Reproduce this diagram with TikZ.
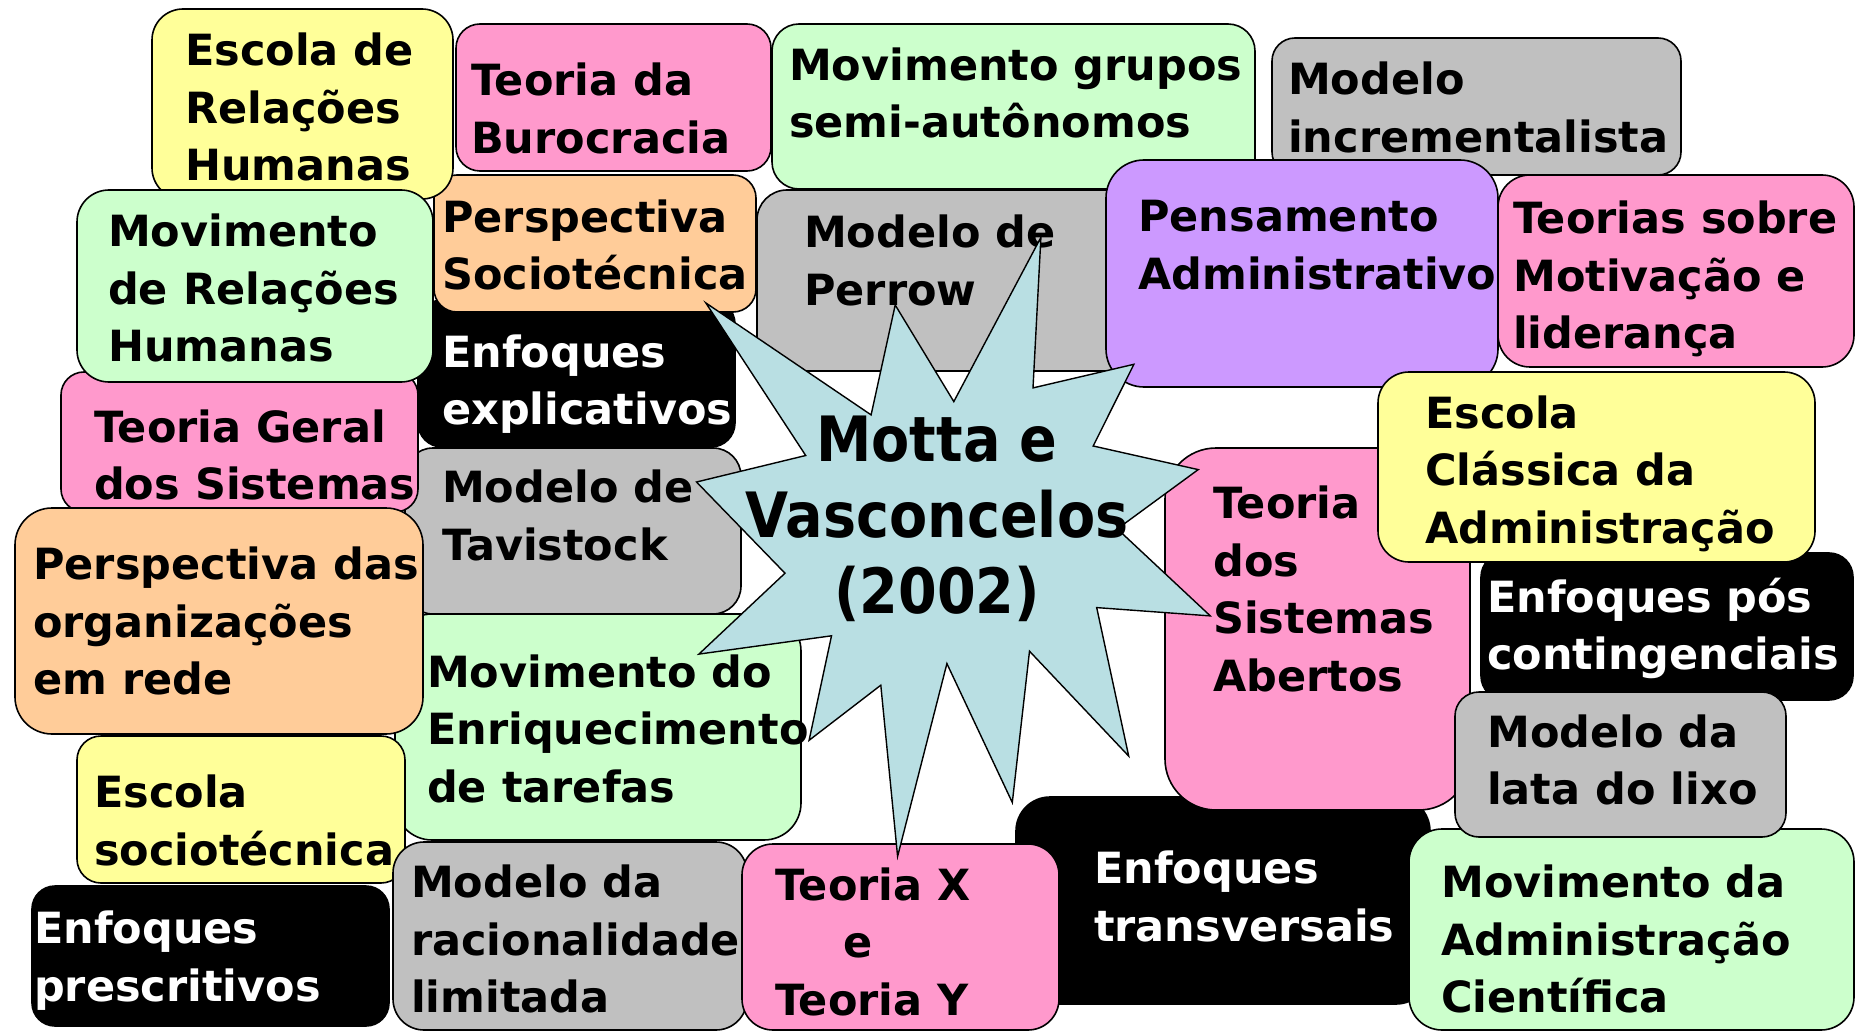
\documentclass[tikz,border=0pt]{standalone}
\usepackage{fontspec}
\setmainfont{DejaVu Sans}
\newfontfamily\estrelafont{DejaVu Sans}[FakeStretch=0.89]
\usepackage{tikz}
\usetikzlibrary{positioning}

\definecolor{amarelo}{HTML}{FFFF99}
\definecolor{rosa}{HTML}{FF99CC}
\definecolor{verde}{HTML}{CCFFCC}
\definecolor{cinza}{HTML}{C0C0C0}
\definecolor{laranja}{HTML}{FFCC99}
\definecolor{lilas}{HTML}{CC99FF}
\definecolor{azulclaro}{HTML}{B9DFE3}

\begin{document}
\begin{tikzpicture}[x=1pt, y=-1pt,
	caixa/.style={draw=black, line width=1.6pt},
	texto/.style={inner sep=0pt, anchor=north west, yshift=32.25pt, align=left,
		font=\fontsize{43}{57.5}\selectfont\bfseries, execute at begin node=\strut},
	textob/.style={texto, text=white}]
		\clip (0,0) rectangle (1856,1032);
		\fill[white] (0,0) rectangle (1856,1032);
		% fileira de cima
		\draw[caixa, fill=cinza, rounded corners=23] (1272,38) rectangle (1681,175);
		\node[texto] (incremental) at (1288,94) {Modelo\\incrementalista};
		\draw[caixa, fill=verde, rounded corners=27] (772,24) rectangle (1255,189);
		\node[texto] (grupos) at (789,79.5) {Movimento grupos\\semi-autônomos};
		\draw[caixa, fill=cinza, rounded corners=30] (757,190) rectangle (1140,371);
		\node[texto] (perrow) at (804,247) {Modelo de\\Perrow};
		\draw[caixa, fill=rosa, rounded corners=24] (456,24) rectangle (771,171);
		\node[texto] (burocracia) at (471,95) {Teoria da\\Burocracia};
		\draw[caixa, fill=black, rounded corners=24] (418,300) rectangle (735,447);
		\node[textob] (explicativos) at (442,366.7) {Enfoques\\explicativos};
		\draw[caixa, fill=laranja, rounded corners=23] (434,175) rectangle (756,312);
		\node[texto] (sociotecnica) at (442,231.7) {Perspectiva\\Sociotécnica};
		\draw[caixa, fill=amarelo, rounded corners=31] (152,9) rectangle (453,199);
		\node[texto] (escolaRH) at (185,65) {Escola de\\Relações\\Humanas};
		% lado esquerdo
		\draw[caixa, fill=cinza, rounded corners=28] (405,448) rectangle (741,614);
		\node[texto] (tavistock) at (442,502) {Modelo de\\Tavistock};
		\draw[caixa, fill=rosa, rounded corners=23] (61,372) rectangle (418,512);
		\node[texto] (tgs) at (94,441.7) {Teoria Geral\\dos Sistemas};
		\draw[caixa, fill=verde, rounded corners=32] (77,190) rectangle (433,382);
		\node[texto] (movRH) at (108,246) {Movimento\\de Relações\\Humanas};
		\draw[caixa, fill=verde, rounded corners=37] (395,614) rectangle (801,840);
		\node[texto] (enriquecimento) at (427,686.7) {Movimento do\\Enriquecimento\\de tarefas};
		\draw[caixa, fill=amarelo, rounded corners=24] (77,736) rectangle (405,883);
		\node[texto] (escolaSocio) at (94,807) {Escola\\sociotécnica};
		\draw[caixa, fill=laranja, rounded corners=37] (15,508) rectangle (423,734);
		\node[texto] (rede) at (33,579) {Perspectiva das\\organizações\\em rede};
		\draw[caixa, fill=black, rounded corners=23] (32,886) rectangle (389,1026);
		\node[textob] (prescritivos) at (34,943) {Enfoques\\prescritivos};
		% fileira de baixo
		\draw[caixa, fill=cinza, rounded corners=31] (393,842) rectangle (747,1030);
		\node[texto] (racionalidade) at (411,897) {Modelo da\\racionalidade\\limitada};
		\draw[caixa, fill=black, rounded corners=34] (1016,797) rectangle (1430,1004);
		\node[textob] (transversais) at (1094,883) {Enfoques\\transversais};
		\draw[caixa, fill=rosa, rounded corners=31] (742,844) rectangle (1059,1030);
		\node[texto] (teoriaXY) at (775,899.6) {Teoria X\\\hspace*{68pt}e\\Teoria Y};
		\draw[caixa, fill=verde, rounded corners=33] (1409,829) rectangle (1854,1030);
		\node[texto] (cientifica) at (1441,897) {Movimento da\\Administração\\Científica};
		% lado direito
		\draw[caixa, fill=rosa, rounded corners=51] (1165,448) rectangle (1470,810);
		\node[texto] (abertos) at (1213,518) {Teoria\\dos\\Sistemas\\Abertos};
		\draw[caixa, fill=black, rounded corners=24] (1481,553) rectangle (1853,700);
		\node[textob] (pos) at (1487,610) {Enfoques pós\\contingenciais};
		\draw[caixa, fill=cinza, rounded corners=24] (1455,692) rectangle (1786,837);
		\node[texto] (lixo) at (1487,746.6) {Modelo da\\lata do lixo};
		\draw[caixa, fill=lilas, rounded corners=38] (1106,160) rectangle (1498,387);
		\node[texto] (pensamento) at (1138,232.3) {Pensamento\\Administrativo};
		\draw[caixa, fill=rosa, rounded corners=32] (1498,175) rectangle (1854,367);
		\node[texto] (motivacao) at (1513,233.3) {Teorias sobre\\Motivação e\\liderança};
		\draw[caixa, fill=amarelo, rounded corners=31] (1378,372) rectangle (1815,562);
		\node[texto] (classica) at (1425,427.5) {Escola\\Clássica da\\Administração};
		% estrela do centro
		\draw[line width=1.4pt, fill=azulclaro] (1040.9,237.4) -- (1033.0,387.9) -- (1133.9,364.3)
			-- (1093.2,446.0) -- (1198.2,469.6) -- (1117.3,528.9) -- (1210.3,615.9)
			-- (1096.7,607.6) -- (1128.7,756.1) -- (1029.5,651.2) -- (1012.3,802.5)
			-- (946.9,663.6) -- (897.6,856.4) -- (880.8,685.2) -- (809.1,740.3)
			-- (831.5,635.8) -- (698.9,654.1) -- (785.0,573.2) -- (696.5,482.0)
			-- (805.7,455.5) -- (705.8,302.9) -- (871.1,414.9) -- (895.2,305.0)
			-- (953.8,401.6) -- cycle;
		\node[inner sep=0pt, anchor=north, yshift=45.2pt, align=center,
			font=\fontsize{62.5}{76}\estrelafont\bfseries, execute at begin node=\strut]
			(motta) at (937,461) {Motta e\\Vasconcelos\\(2002)};
	\end{tikzpicture}
\end{document}
